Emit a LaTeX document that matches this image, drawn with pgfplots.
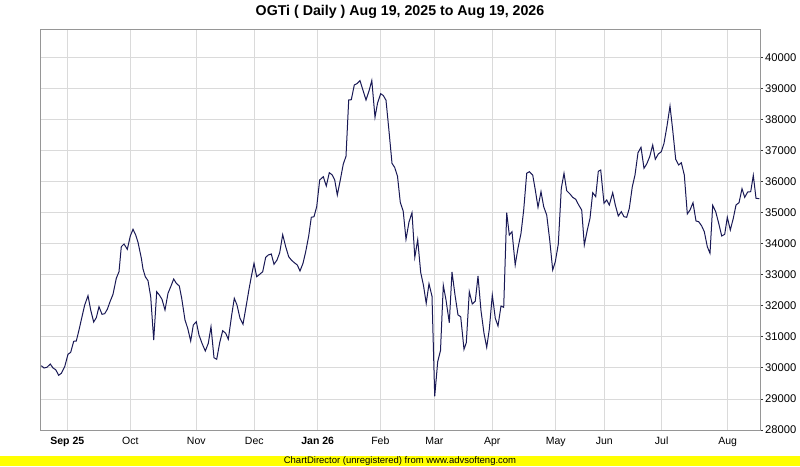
\documentclass[border=0pt]{standalone}
\usepackage{pgfplots}
\pgfplotsset{compat=1.18}
\usepackage{fontspec}
\setmainfont{Liberation Sans}
\definecolor{linecol}{RGB}{25,25,85}
\definecolor{gridcol}{RGB}{218,218,218}
\definecolor{axcol}{RGB}{150,150,150}
\definecolor{cdyellow}{RGB}{255,255,0}
\begin{document}
\begin{tikzpicture}[x=1pt,y=1pt]
\fill[white] (0,0) rectangle (800,466);
\fill[cdyellow] (0,0) rectangle (800,10);
\node[font=\fontsize{9.5}{10}\selectfont, inner sep=0pt] at (400,5) {ChartDirector (unregistered) from www.advsofteng.com};
\node[font=\fontsize{14.2}{16}\selectfont\bfseries, inner sep=0pt] at (400,454) {OGTi ( Daily ) Aug 19, 2025 to Aug 19, 2026};
\begin{axis}[
  at={(40pt,36pt)}, anchor=south west,
  width=720pt, height=400pt, scale only axis,
  xmin=40, xmax=760, ymin=28000, ymax=40903,
  axis line style={axcol, line width=1pt},
  grid=major, major grid style={gridcol, line width=1pt},
  xtick={67.3,130.3,196.3,254.3,317.7,380.3,434.3,492.3,555.7,604.3,661.7,727.7},
  xticklabels={\textbf{Sep 25},Oct,Nov,Dec,\textbf{Jan 26},Feb,Mar,Apr,May,Jun,Jul,Aug},
  x tick style={draw=none},
  ytick={28000,29000,...,40000},
  scaled y ticks=false,
  ytick pos=right, yticklabel pos=right,
  tick align=outside, major tick length=3pt,
  y tick style={black!80, line width=1pt},
  xticklabel style={font=\fontsize{10.5}{12}\selectfont, inner sep=0pt, yshift=-4pt},
  yticklabel style={font=\fontsize{11.2}{12}\selectfont, inner sep=0pt, anchor=west, xshift=2pt},
  /pgf/number format/assume math mode=true,
  /pgf/number format/1000 sep={},
  clip=false,
]
\addplot[linecol, line width=1pt] coordinates {
(41.3,30074) (44,30000) (47,30023) (50.3,30129) (53,30000) (55.7,29945) (58.7,29765) (61.3,29829) (64.7,30042) (68,30442)
(70.7,30506) (73.7,30861) (76.3,30871) (79,31226) (82,31655) (84.7,32032) (88,32332) (90.7,31871) (93.7,31484) (96.3,31623)
(99,31977) (102,31732) (104.7,31752) (107.3,31894) (110.3,32161) (113,32377) (116.3,32894) (119,33106) (121.3,33913) (124,34000)
(127.3,33829) (130.3,34258) (133,34474) (135.7,34290) (138,34055) (141.3,33548) (143,33194) (145.3,32945) (148,32816) (150.7,32300)
(153.7,30903) (156.7,32461) (159.3,32355) (162,32216) (165,31871) (168,32410) (171,32645) (173.7,32871) (176.3,32732) (179.3,32645)
(181.7,32248) (185,31548) (187.7,31281) (190.7,30871) (193.3,31387) (196.3,31494) (199,31065) (202,30797) (205.3,30548) (208.3,30797)
(211,31332) (214,30332) (216.7,30281) (219.7,30816) (222.7,31203) (225.7,31119) (228.3,30926) (231.7,31710) (234.3,32248) (237,32032)
(240,31603) (243,31410) (246,31968) (249,32539) (251.3,32945) (254,33377) (256.7,32945) (259.7,33023) (262.7,33106) (265.7,33571)
(268.3,33645) (271.3,33677) (274,33345) (277,33484) (279.7,33719) (282.7,34300) (285.7,33913) (288.7,33590) (291.3,33484) (294.3,33397)
(297.3,33323) (300,33129) (303,33377) (305.7,33752) (308.7,34258) (311.3,34861) (314,34881) (316.7,35203) (319.7,36065) (323.3,36171)
(326.3,35871) (329.3,36300) (332.3,36226) (334.7,36065) (337.3,35581) (340.3,36065) (343.3,36581) (346,36829) (348.7,38645) (351.3,38655)
(354.3,39129) (357,39171) (360,39268) (363.3,38926) (366,38645) (369,38935) (371.8,39274) (375,38087) (377.5,38539) (380.7,38848)
(383.3,38790) (386,38636) (388.8,37710) (392,36603) (394.7,36468) (397.5,36184) (400.3,35339) (403.2,35058) (406,34152) (409,34710)
(412,35010) (414.8,33571) (417.7,34139) (420.7,33081) (423.5,32661) (426.2,32087) (429,32719) (432,32313) (434.7,29087) (437.7,30203)
(440.5,30565) (443.3,32668) (446,32194) (449.3,31461) (452,33097) (455,32355) (458,31710) (460.7,31655) (464,30603) (466.3,30816)
(469.3,32461) (472.3,32065) (475.3,32161) (478,32968) (481,31848) (484,31119) (486.7,30668) (489.3,31248) (492.3,32355) (495.3,31603)
(498,31355) (501,32000) (503.7,31958) (506.7,35010) (509.3,34290) (512,34397) (515.2,33323) (518,33871) (521,34345) (523.7,35097)
(526.7,36281) (529.3,36332) (532.7,36226) (535.3,35742) (538,35184) (541,35687) (543.7,35203) (546.7,34935) (549.7,34129) (552.7,33161)
(555.3,33429) (558.3,34000) (561.3,35797) (564,36281) (566.7,35719) (570,35613) (572.7,35506) (575.7,35442) (578.7,35258) (581.7,35097)
(584.3,33968) (587.3,34452) (590,34829) (592.7,35655) (595.7,35526) (598.3,36345) (600.7,36387) (604,35313) (606.7,35419) (609.3,35258)
(612.7,35655) (615.3,35258) (618.3,34903) (621.3,35042) (624,34881) (626.7,34861) (629.3,35152) (632.3,35848) (635,36226) (638,36945)
(641,37119) (644,36442) (646.7,36581) (649.7,36816) (652.7,37194) (655.3,36732) (658.3,36903) (661.3,36977) (664,37248) (667,37806)
(670,38452) (672.7,37677) (675.7,36732) (678.7,36548) (681.3,36623) (684.3,36226) (687.3,34968) (690,35097) (693,35332) (696,34742)
(698.7,34719) (701.7,34581) (704.3,34397) (707.3,33913) (710,33700) (712.7,35248) (715.7,35042) (718.7,34668) (721.7,34258) (724.7,34313)
(727.3,34861) (730.3,34452) (733.3,34829) (736,35258) (739,35332) (742,35784) (744.7,35506) (747.7,35677) (750.7,35687) (753.3,36216)
(756,35474) (759.3,35461)
};
\end{axis}
\end{tikzpicture}
\end{document}
